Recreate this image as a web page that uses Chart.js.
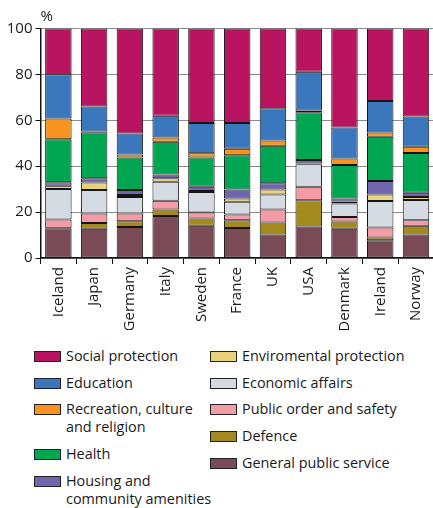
<!DOCTYPE html>
<html>
<head>
<meta charset="utf-8">
<script src="https://cdn.jsdelivr.net/npm/chart.js@4"></script>
<style>
  html, body { margin: 0; padding: 0; background: #fff; overflow: hidden; }
  body { width: 433px; height: 508px; position: relative; font-family: "Open Sans", sans-serif; }
  #wrap { position: absolute; left: 0; top: 0; width: 437px; height: 330px; }
  .legend-col { position: absolute; top: 347px; display: flex; flex-direction: column; }
  .item { display: flex; align-items: flex-start; margin-bottom: 8.7px; }
  .sw { width: 25px; height: 9px; border: 1px solid #222; margin-top: 4px; flex: none; }
  .lbl { margin-left: 5px; font-size: 14.4px; line-height: 18px; color: #1a1a1a; white-space: pre-line; }
</style>
</head>
<body>
<div id="wrap"><canvas id="c" width="437" height="330"></canvas></div>
<div class="legend-col" id="legLeft" style="left:34px"></div>
<div class="legend-col" id="legRight" style="left:210px"></div>
<script>
// Countries along the x axis
const categories = ['Iceland', 'Japan', 'Germany', 'Italy', 'Sweden', 'France', 'UK', 'USA', 'Denmark', 'Ireland', 'Norway'];

// Share of government expenditure by function, % (stacked bottom to top)
const generalPublicService = [13.0, 12.7, 13.5, 18.3, 14.1, 13.1, 10.2, 13.7, 12.7, 7.7, 10.2];
const defence              = [0.0, 2.6, 2.5, 2.8, 3.1, 3.4, 5.3, 11.5, 3.2, 1.2, 3.9];
const publicOrder          = [3.8, 4.1, 3.4, 3.8, 2.6, 2.5, 5.6, 5.8, 2.0, 4.4, 2.4];
const economicAffairs      = [13.3, 10.2, 7.2, 8.3, 9.0, 5.5, 6.6, 9.9, 5.9, 11.5, 8.8];
const environmental        = [1.4, 3.3, 0.8, 1.6, 0.4, 1.4, 2.2, 0.3, 0.8, 2.9, 1.3];
const housing              = [1.5, 1.8, 2.2, 1.6, 1.8, 4.0, 2.7, 1.5, 1.3, 5.8, 1.8];
const health               = [18.7, 20.1, 14.2, 14.3, 12.8, 14.9, 16.3, 20.8, 14.6, 19.3, 17.4];
const recreation           = [9.1, 0.3, 1.3, 1.8, 1.8, 2.8, 2.3, 0.8, 2.9, 1.9, 2.7];
const education            = [19.3, 10.9, 9.2, 9.5, 13.2, 11.2, 14.0, 16.9, 13.5, 13.7, 13.2];
const socialProtection     = [19.9, 34.0, 45.7, 38.0, 41.2, 41.2, 34.8, 18.8, 43.1, 31.6, 38.3];

// Y axis ticks
const yTicks = [0, 20, 40, 60, 80, 100];

const series = [
  { label: 'General public service', data: generalPublicService, color: '#7a4a56' },
  { label: 'Defence', data: defence, color: '#a38a1f' },
  { label: 'Public order and safety', data: publicOrder, color: '#f49ba6' },
  { label: 'Economic affairs', data: economicAffairs, color: '#d5dbe2' },
  { label: 'Enviromental protection', data: environmental, color: '#e9d27c' },
  { label: 'Housing and\ncommunity amenities', data: housing, color: '#6f66ae' },
  { label: 'Health', data: health, color: '#00a651' },
  { label: 'Recreation, culture\nand religion', data: recreation, color: '#f7941d' },
  { label: 'Education', data: education, color: '#3a77bd' },
  { label: 'Social protection', data: socialProtection, color: '#b8145f' }
];

// Legend layout: two columns
const leftLegend = ['Social protection', 'Education', 'Recreation, culture\nand religion', 'Health', 'Housing and\ncommunity amenities'];
const rightLegend = ['Enviromental protection', 'Economic affairs', 'Public order and safety', 'Defence', 'General public service'];

function buildLegend(id, names) {
  const col = document.getElementById(id);
  names.forEach(n => {
    const s = series.find(x => x.label === n);
    const item = document.createElement('div');
    item.className = 'item';
    const sw = document.createElement('div');
    sw.className = 'sw';
    sw.style.background = s.color;
    const lbl = document.createElement('div');
    lbl.className = 'lbl';
    lbl.textContent = n;
    item.appendChild(sw);
    item.appendChild(lbl);
    col.appendChild(item);
  });
}
buildLegend('legLeft', leftLegend);
buildLegend('legRight', rightLegend);

// Percent sign above the value axis
const percentSign = {
  id: 'percentSign',
  afterDraw(chart) {
    const ctx = chart.ctx;
    ctx.save();
    ctx.font = '15px "Open Sans"';
    ctx.fillStyle = '#1a1a1a';
    ctx.textBaseline = 'middle';
    ctx.textAlign = 'left';
    ctx.fillText('%', chart.chartArea.left, 16.5);
    ctx.restore();
  }
};

new Chart(document.getElementById('c'), {
  type: 'bar',
  data: {
    labels: categories,
    datasets: series.map(s => ({
      label: s.label,
      data: s.data,
      backgroundColor: s.color,
      borderColor: '#151515',
      borderWidth: 1,
      borderSkipped: false,
      barPercentage: 0.74,
      categoryPercentage: 1.0
    }))
  },
  options: {
    responsive: false,
    animation: false,
    layout: { padding: { top: 28.5, right: 0, left: 0, bottom: 0 } },
    plugins: { legend: { display: false }, tooltip: { enabled: false } },
    scales: {
      x: {
        stacked: true,
        afterFit(scale) { scale.height = 72; },
        grid: { display: true, drawOnChartArea: false, offset: true, tickLength: 6, tickColor: '#111', tickWidth: 1 },
        border: { color: '#111', width: 1.5 },
        ticks: {
          minRotation: 90, maxRotation: 90, padding: 3,
          color: '#1a1a1a', font: { family: 'Open Sans', size: 15 }
        }
      },
      y: {
        stacked: true,
        min: 0, max: 100,
        afterFit(scale) { scale.width = 40.5; },
        afterBuildTicks(scale) { scale.ticks = yTicks.map(v => ({ value: v })); },
        grid: { color: '#8c8c8c', lineWidth: 1, tickLength: 5, tickColor: '#111', tickWidth: 1 },
        border: { color: '#111', width: 1.5 },
        ticks: { padding: 3, color: '#1a1a1a', font: { family: 'Open Sans', size: 15 } }
      }
    }
  },
  plugins: [percentSign]
});
</script>
</body>
</html>
